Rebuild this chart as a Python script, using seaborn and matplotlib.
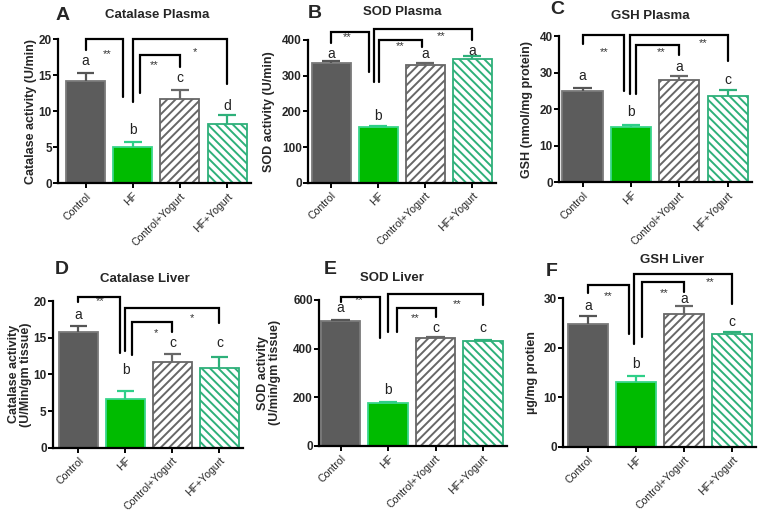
import matplotlib
matplotlib.use("Agg")
import matplotlib.pyplot as plt
import numpy as np
import pandas as pd
import seaborn as sns

# ---------------- data ----------------
groups = ["Control", "HF", "Control+Yogurt", "HF+Yogurt"]

# A  Catalase Plasma
cat_plasma = [14.2, 5.0, 11.7, 8.3]
cat_plasma_sem = [1.1, 0.8, 1.2, 1.2]
cat_plasma_letters = ["a", "b", "c", "d"]
cat_plasma_letter_y = [17.0, 7.4, 14.6, 10.8]
cat_plasma_brackets = [(18.5, 20.0, 12.0), (11.3, 20.0, 13.8), (12.5, 17.8, 16.2)]
cat_plasma_stars = ["**", "*", "**"]
cat_plasma_star_y = [18.0, 18.2, 16.4]

# B  SOD Plasma
sod_plasma = [336, 155, 330, 346]
sod_plasma_sem = [5, 5, 5, 8]
sod_plasma_letters = ["a", "b", "a", "a"]
sod_plasma_letter_y = [362, 187, 360, 370]
sod_plasma_brackets = [(392, 423, 311), (281, 430, 400), (281, 400, 381)]
sod_plasma_stars = ["**", "**", "**"]
sod_plasma_star_y = [407, 411, 383]

# C  GSH Plasma
gsh_plasma = [24.9, 15.2, 27.9, 23.6]
gsh_plasma_sem = [1.0, 0.6, 1.2, 1.6]
gsh_plasma_letters = ["a", "b", "a", "c"]
gsh_plasma_letter_y = [29.0, 19.3, 31.6, 27.9]
gsh_plasma_brackets = [(37.8, 40.2, 25.0), (24.1, 40.2, 33.2), (24.1, 37.5, 34.8)]
gsh_plasma_stars = ["**", "**", "**"]
gsh_plasma_star_y = [35.7, 38.1, 35.7]

# D  Catalase Liver
cat_liver = [15.8, 6.7, 11.7, 10.8]
cat_liver_sem = [0.8, 1.0, 1.1, 1.5]
cat_liver_letters = ["a", "b", "c", "c"]
cat_liver_letter_y = [18.1, 10.6, 14.3, 14.3]
cat_liver_brackets = [(19.8, 20.5, 12.9), (13.2, 19.0, 17.0), (12.6, 17.1, 15.8)]
cat_liver_stars = ["**", "*", "*"]
cat_liver_star_y = [20.0, 17.7, 15.6]

# E  SOD Liver
sod_liver = [512, 175, 442, 432]
sod_liver_sem = [6, 5, 5, 5]
sod_liver_letters = ["a", "b", "c", "c"]
sod_liver_letter_y = [567, 230, 485, 485]
sod_liver_brackets = [(592, 612, 444), (469, 625, 580), (469, 567, 531)]
sod_liver_stars = ["**", "**", "**"]
sod_liver_star_y = [600, 584, 527]

# F  GSH Liver
gsh_liver = [24.8, 13.1, 26.9, 22.8]
gsh_liver_sem = [1.6, 1.1, 1.5, 0.4]
gsh_liver_letters = ["a", "b", "a", "c"]
gsh_liver_letter_y = [28.5, 16.7, 29.8, 25.1]
gsh_liver_brackets = [(31.0, 32.7, 22.8), (20.7, 34.8, 28.8), (22.2, 33.3, 31.3)]
gsh_liver_stars = ["**", "**", "**"]
gsh_liver_star_y = [30.4, 33.3, 31.0]

# ---------------- style ----------------
sns.set_style("ticks")
plt.rcParams["font.family"] = ["Liberation Sans", "DejaVu Sans"]
plt.rcParams["hatch.linewidth"] = 1.4

W, H = 758, 515
fill_colors = ["#5c5c5c", "#00bb00", "#ffffff", "#ffffff"]
edge_colors = ["#7a7a7a", "#3ad68c", "#676767", "#2eb07a"]
err_colors = ["#555555", "#2ecf88", "#676767", "#2eb07a"]
hatches = [None, None, "////", "\\\\\\\\"]

panels = [
    dict(letter="A", title="Catalase Plasma", ylabel="Catalase activity (U/min)",
         vals=cat_plasma, sem=cat_plasma_sem, letters=cat_plasma_letters, letter_y=cat_plasma_letter_y,
         brackets=cat_plasma_brackets, stars=cat_plasma_stars, star_y=cat_plasma_star_y,
         ylim=20, yticks=[0, 5, 10, 15, 20],
         spine=58, c0=85.5, s=47.2, top=39.3, bottom=183.3, lab_r=37,
         bx=[(0, 0.8), (1.0, 3.0), (1.15, 2.0)], sx=[0.46, 2.31, 1.46],
         lpos=(63, 15), tpos=(157, 15)),
    dict(letter="B", title="SOD Plasma", ylabel="SOD activity (U/min)",
         vals=sod_plasma, sem=sod_plasma_sem, letters=sod_plasma_letters, letter_y=sod_plasma_letter_y,
         brackets=sod_plasma_brackets, stars=sod_plasma_stars, star_y=sod_plasma_star_y,
         ylim=400, yticks=[0, 100, 200, 300, 400],
         spine=308, c0=331.3, s=47.0, top=40.0, bottom=182.7, lab_r=275,
         bx=[(0, 0.8), (0.9, 3.0), (1.02, 1.94)], sx=[0.33, 2.33, 1.46],
         lpos=(315, 14), tpos=(402, 12)),
    dict(letter="C", title="GSH Plasma", ylabel="GSH (nmol/mg protein)",
         vals=gsh_plasma, sem=gsh_plasma_sem, letters=gsh_plasma_letters, letter_y=gsh_plasma_letter_y,
         brackets=gsh_plasma_brackets, stars=gsh_plasma_stars, star_y=gsh_plasma_star_y,
         ylim=40, yticks=[0, 10, 20, 30, 40],
         spine=559, c0=582.5, s=48.4, top=36.0, bottom=182.3, lab_r=533,
         bx=[(0, 0.86), (0.98, 3.0), (1.11, 2.0)], sx=[0.44, 2.49, 1.62],
         lpos=(557, 9), tpos=(650, 16)),
    dict(letter="D", title="Catalase Liver", ylabel="Catalase activity\n(U/Min/gm tissue)",
         vals=cat_liver, sem=cat_liver_sem, letters=cat_liver_letters, letter_y=cat_liver_letter_y,
         brackets=cat_liver_brackets, stars=cat_liver_stars, star_y=cat_liver_star_y,
         ylim=20, yticks=[0, 5, 10, 15, 20],
         spine=53, c0=78.5, s=47.0, top=301.0, bottom=447.7, lab_r=32,
         bx=[(0, 0.88), (1.0, 3.0), (1.14, 2.0)], sx=[0.46, 2.41, 1.65],
         lpos=(62, 270), tpos=(145, 279)),
    dict(letter="E", title="SOD Liver", ylabel="SOD activity\n(U/min/gm tissue)",
         vals=sod_liver, sem=sod_liver_sem, letters=sod_liver_letters, letter_y=sod_liver_letter_y,
         brackets=sod_liver_brackets, stars=sod_liver_stars, star_y=sod_liver_star_y,
         ylim=600, yticks=[0, 200, 400, 600],
         spine=319, c0=340.5, s=47.5, top=300.0, bottom=445.7, lab_r=281,
         bx=[(0, 0.84), (1.0, 3.0), (1.18, 2.0)], sx=[0.39, 2.45, 1.57],
         lpos=(330, 270), tpos=(392, 278)),
    dict(letter="F", title="GSH Liver", ylabel="\u00b5g/mg protien",
         vals=gsh_liver, sem=gsh_liver_sem, letters=gsh_liver_letters, letter_y=gsh_liver_letter_y,
         brackets=gsh_liver_brackets, stars=gsh_liver_stars, star_y=gsh_liver_star_y,
         ylim=30, yticks=[0, 10, 20, 30],
         spine=563, c0=588.0, s=48.1, top=298.2, bottom=446.7, lab_r=538,
         bx=[(0, 0.85), (0.96, 3.0), (1.12, 2.0)], sx=[0.41, 2.55, 1.58],
         lpos=(552, 271), tpos=(672, 260)),
]

fig = plt.figure(figsize=(W / 100, H / 100), dpi=100)
fig.patch.set_facecolor("white")

for p in panels:
    x0 = (p["spine"] - p["c0"]) / p["s"]
    x1 = 3.5
    wpx = (x1 - x0) * p["s"]
    ax = fig.add_axes([p["spine"] / W, 1 - p["bottom"] / H, wpx / W, (p["bottom"] - p["top"]) / H])
    df = pd.DataFrame({"group": groups, "value": p["vals"]})
    sns.barplot(data=df, x="group", y="value", hue="group", palette=fill_colors,
                legend=False, errorbar=None, width=0.83, saturation=1, linewidth=1.3, ax=ax)
    for patch, ec, h in zip(ax.patches, edge_colors, hatches):
        patch.set_edgecolor(ec)
        if h:
            patch.set_hatch(h)
    xs = np.arange(len(groups))
    vals = np.array(p["vals"], dtype=float)
    sem = np.array(p["sem"], dtype=float)
    ax.vlines(xs, vals, vals + sem, colors=err_colors, lw=1.6, zorder=3)
    ax.hlines(vals + sem, xs - 0.19, xs + 0.19, colors=err_colors, lw=1.6, zorder=3)

    for xi, t, ty in zip(xs, p["letters"], p["letter_y"]):
        ax.text(xi, ty, t, ha="center", va="center", fontsize=10, color="#222222")

    for (bl, br), (yl, yt, yr) in zip(p["bx"], p["brackets"]):
        ax.plot([bl, bl, br, br], [yl, yt, yt, yr], color="black", lw=1.6,
                clip_on=False, solid_joinstyle="miter", zorder=4)
    for sxv, st, sy in zip(p["sx"], p["stars"], p["star_y"]):
        ax.text(sxv, sy, st, ha="center", va="center", fontsize=8, color="#333333")

    ax.set_xlim(x0, x1)
    ax.set_ylim(0, p["ylim"])
    ax.set_yticks(p["yticks"])
    ax.set_yticklabels([str(t) for t in p["yticks"]], fontsize=8.5, fontweight="bold")
    ax.set_xticks(xs)
    ax.set_xticklabels(groups, rotation=45, ha="right", rotation_mode="anchor", fontsize=7.6)
    ax.set_xlabel("")
    ax.set_ylabel(p["ylabel"], fontsize=9, fontweight="bold", linespacing=1.05)
    ax.yaxis.set_label_coords((p["lab_r"] - p["spine"]) / wpx, 0.5)
    ax.yaxis.label.set_va("bottom")
    for side in ["top", "right"]:
        ax.spines[side].set_visible(False)
    for side in ["left", "bottom"]:
        ax.spines[side].set_linewidth(1.6)
        ax.spines[side].set_color("black")
    ax.tick_params(axis="y", direction="out", length=3.5, width=1.4, color="black", pad=1)
    ax.tick_params(axis="x", direction="out", length=3.5, width=1.4, color="black", pad=2)

    fig.text(p["lpos"][0] / W, 1 - p["lpos"][1] / H, p["letter"], ha="center", va="center",
             fontsize=14, fontweight="bold")
    fig.text(p["tpos"][0] / W, 1 - p["tpos"][1] / H, p["title"], ha="center", va="center",
             fontsize=9.5, fontweight="bold")

fig.savefig("out.png", dpi=100, facecolor="white")
